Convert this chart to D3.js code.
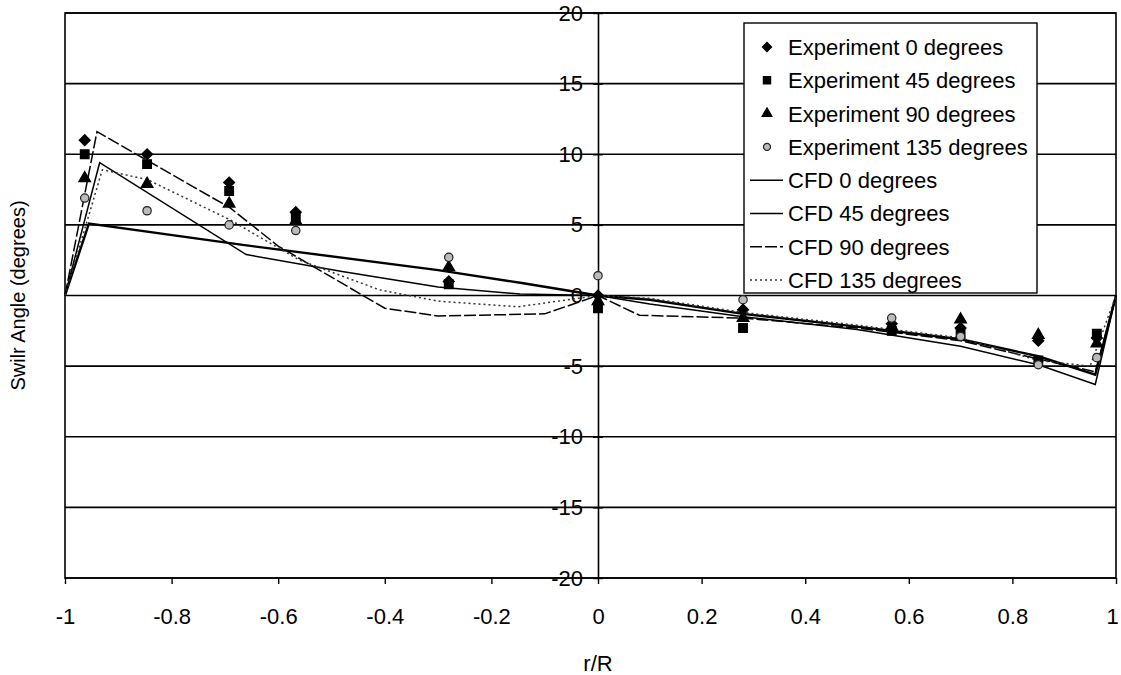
<!DOCTYPE html>
<html>
<head>
<meta charset="utf-8">
<script src="https://cdn.jsdelivr.net/npm/d3@7"></script>
<style>
  html, body { margin: 0; padding: 0; background: #fff; }
  svg { display: block; font-family: "Liberation Sans", Arial, sans-serif; }
</style>
</head>
<body>
<svg id="chart" width="1121" height="675"></svg>
<script>
// Measurement stations (r/R) for the experimental traverses
const expR = [-0.963, -0.846, -0.692, -0.567, -0.28, 0, 0.28, 0.567, 0.7, 0.85, 0.963];
const exp0   = [11.0, 10.0, 8.0, 5.9, 1.0, 0.0, -1.0, -2.0, -2.3, -3.2, -3.0];
const exp45  = [10.0, 9.3, 7.4, 5.6, 0.8, -0.9, -2.3, -2.5, -2.7, -4.6, -2.7];
const exp90  = [8.3, 7.9, 6.5, 5.3, 2.0, -0.4, -1.6, -2.2, -1.7, -2.8, -3.4];
const exp135 = [6.9, 6.0, 5.0, 4.6, 2.7, 1.4, -0.3, -1.6, -2.9, -4.9, -4.4];

// CFD profiles
const cfdR0   = [-1, -0.955, -0.67, -0.3, -0.146, 0, 0.1, 0.28, 0.5, 0.7, 0.85, 0.96, 1];
const cfd0    = [0, 5.1, 3.6, 1.8, 0.9, 0, -0.3, -1.3, -2.2, -3.1, -4.3, -5.6, 0];
const cfdR45  = [-1, -0.935, -0.66, -0.48, -0.3, -0.146, 0, 0.1, 0.28, 0.5, 0.7, 0.85, 0.96, 1];
const cfd45   = [0, 9.4, 2.9, 1.7, 0.6, 0.1, 0, -0.6, -1.5, -2.4, -3.6, -4.9, -6.3, 0];
const cfdR90  = [-1, -0.94, -0.69, -0.6, -0.4, -0.3, -0.1, 0, 0.08, 0.28, 0.5, 0.7, 0.85, 0.96, 1];
const cfd90   = [0, 11.6, 6.2, 3.5, -0.9, -1.45, -1.3, 0, -1.4, -1.6, -2.3, -3.2, -4.5, -5.4, 0];
const cfdR135 = [-1, -0.93, -0.845, -0.69, -0.56, -0.41, -0.3, -0.15, 0, 0.1, 0.28, 0.5, 0.7, 0.85, 0.95, 1];
const cfd135  = [0, 8.9, 8.2, 5.35, 2.5, 0.4, -0.4, -0.8, 0, -0.2, -1.2, -2.1, -3.0, -4.6, -5.0, 0];

const xTicks = [-1, -0.8, -0.6, -0.4, -0.2, 0, 0.2, 0.4, 0.6, 0.8, 1];
const yTicks = [-20, -15, -10, -5, 0, 5, 10, 15, 20];

const legendLabels = [
  "Experiment 0 degrees", "Experiment 45 degrees", "Experiment 90 degrees", "Experiment 135 degrees",
  "CFD 0 degrees", "CFD 45 degrees", "CFD 90 degrees", "CFD 135 degrees"
];

const svg = d3.select("#chart");
const plotLeft = 65, plotRight = 1116, plotTop = 13, plotBottom = 578;

const x = d3.scaleLinear().domain([-1, 0, 1]).range([plotLeft, 598, plotRight]);
const y = d3.scaleLinear().domain([-20, 20]).range([plotBottom, plotTop]);

// Horizontal gridlines
svg.append("g").selectAll("line").data(yTicks).join("line")
  .attr("x1", plotLeft).attr("x2", plotRight)
  .attr("y1", d => y(d)).attr("y2", d => y(d))
  .attr("stroke", "#000").attr("stroke-width", 1.6);

// Plot frame
svg.append("rect")
  .attr("x", plotLeft).attr("y", plotTop)
  .attr("width", plotRight - plotLeft).attr("height", plotBottom - plotTop)
  .attr("fill", "none").attr("stroke", "#000").attr("stroke-width", 1.6);

// Bottom axis
const xAxis = svg.append("g")
  .attr("transform", `translate(0,${plotBottom})`)
  .call(d3.axisBottom(x).tickValues(xTicks).tickSize(6).tickSizeOuter(0).tickPadding(24)
    .tickFormat(d => String(d)));
xAxis.select(".domain").remove();
xAxis.selectAll(".tick line").attr("stroke", "#000").attr("stroke-width", 1.4);
xAxis.selectAll("text").attr("font-size", 22).attr("fill", "#000")
  .attr("dx", d => d === 1 ? -4 : 0);

// Vertical axis through r/R = 0
const yAxis = svg.append("g")
  .attr("transform", `translate(${x(0)},0)`)
  .call(d3.axisLeft(y).tickValues(yTicks).tickSize(5).tickSizeOuter(0).tickPadding(10)
    .tickFormat(d => String(d)));
yAxis.select(".domain").attr("stroke", "#000").attr("stroke-width", 1.6);
yAxis.selectAll(".tick line").attr("x2", 5).attr("x1", -5).attr("stroke", "#000").attr("stroke-width", 1.4);
yAxis.selectAll("text").attr("font-size", 22).attr("fill", "#000");

// Axis titles
svg.append("text")
  .attr("x", x(0)).attr("y", 671)
  .attr("text-anchor", "middle").attr("font-size", 22).text("r/R");
svg.append("text")
  .attr("transform", `translate(25,${y(0)}) rotate(-90)`)
  .attr("text-anchor", "middle").attr("font-size", 20).text("Swilr Angle (degrees)");

// CFD lines
const lineGen = d3.line().x(d => x(d[0])).y(d => y(d[1]));
const cfdSeries = [
  { r: cfdR0, v: cfd0, width: 2.4, dash: null, color: "#000" },
  { r: cfdR45, v: cfd45, width: 1.5, dash: null, color: "#000" },
  { r: cfdR90, v: cfd90, width: 1.5, dash: "12,3", color: "#000" },
  { r: cfdR135, v: cfd135, width: 1.5, dash: "2,3", color: "#333" }
];
cfdSeries.forEach(s => {
  svg.append("path")
    .datum(d3.zip(s.r, s.v))
    .attr("d", lineGen)
    .attr("fill", "none")
    .attr("stroke", s.color)
    .attr("stroke-width", s.width)
    .attr("stroke-dasharray", s.dash);
});

// Experimental markers (the diamond is a square turned by 45 degrees)
const expSeries = [
  { v: exp0, type: d3.symbolSquare, rot: 45, size: 60, fill: "#000", stroke: "#000" },
  { v: exp45, type: d3.symbolSquare, rot: 0, size: 75, fill: "#000", stroke: "#000" },
  { v: exp90, type: d3.symbolTriangle, rot: 0, size: 60, fill: "#000", stroke: "#000" },
  { v: exp135, type: d3.symbolCircle, rot: 0, size: 55, fill: "#bbb", stroke: "#222" }
];
expSeries.forEach(s => {
  svg.append("g").selectAll("path").data(d3.zip(expR, s.v)).join("path")
    .attr("transform", d => `translate(${x(d[0])},${y(d[1])}) rotate(${s.rot})`)
    .attr("d", d3.symbol().type(s.type).size(s.size))
    .attr("fill", s.fill).attr("stroke", s.stroke).attr("stroke-width", 1.2);
});

// Legend
const lg = svg.append("g");
lg.append("rect")
  .attr("x", 744).attr("y", 23).attr("width", 293).attr("height", 270)
  .attr("fill", "#fff").attr("stroke", "#000").attr("stroke-width", 1.4);
const rowY = i => 47 + i * 33.3;
legendLabels.forEach((label, i) => {
  lg.append("text")
    .attr("x", 788).attr("y", rowY(i)).attr("dy", "0.36em")
    .attr("font-size", 22).attr("fill", "#000").text(label);
});
expSeries.forEach((s, i) => {
  lg.append("path")
    .attr("transform", `translate(767,${rowY(i)}) rotate(${s.rot})`)
    .attr("d", d3.symbol().type(s.type).size(s.size * 0.7))
    .attr("fill", s.fill).attr("stroke", s.stroke).attr("stroke-width", 1.2);
});
cfdSeries.forEach((s, i) => {
  lg.append("line")
    .attr("x1", 750).attr("x2", 783)
    .attr("y1", rowY(i + 4)).attr("y2", rowY(i + 4))
    .attr("stroke", s.color).attr("stroke-width", Math.min(s.width, 1.6))
    .attr("stroke-dasharray", s.dash);
});
</script>
</body>
</html>
